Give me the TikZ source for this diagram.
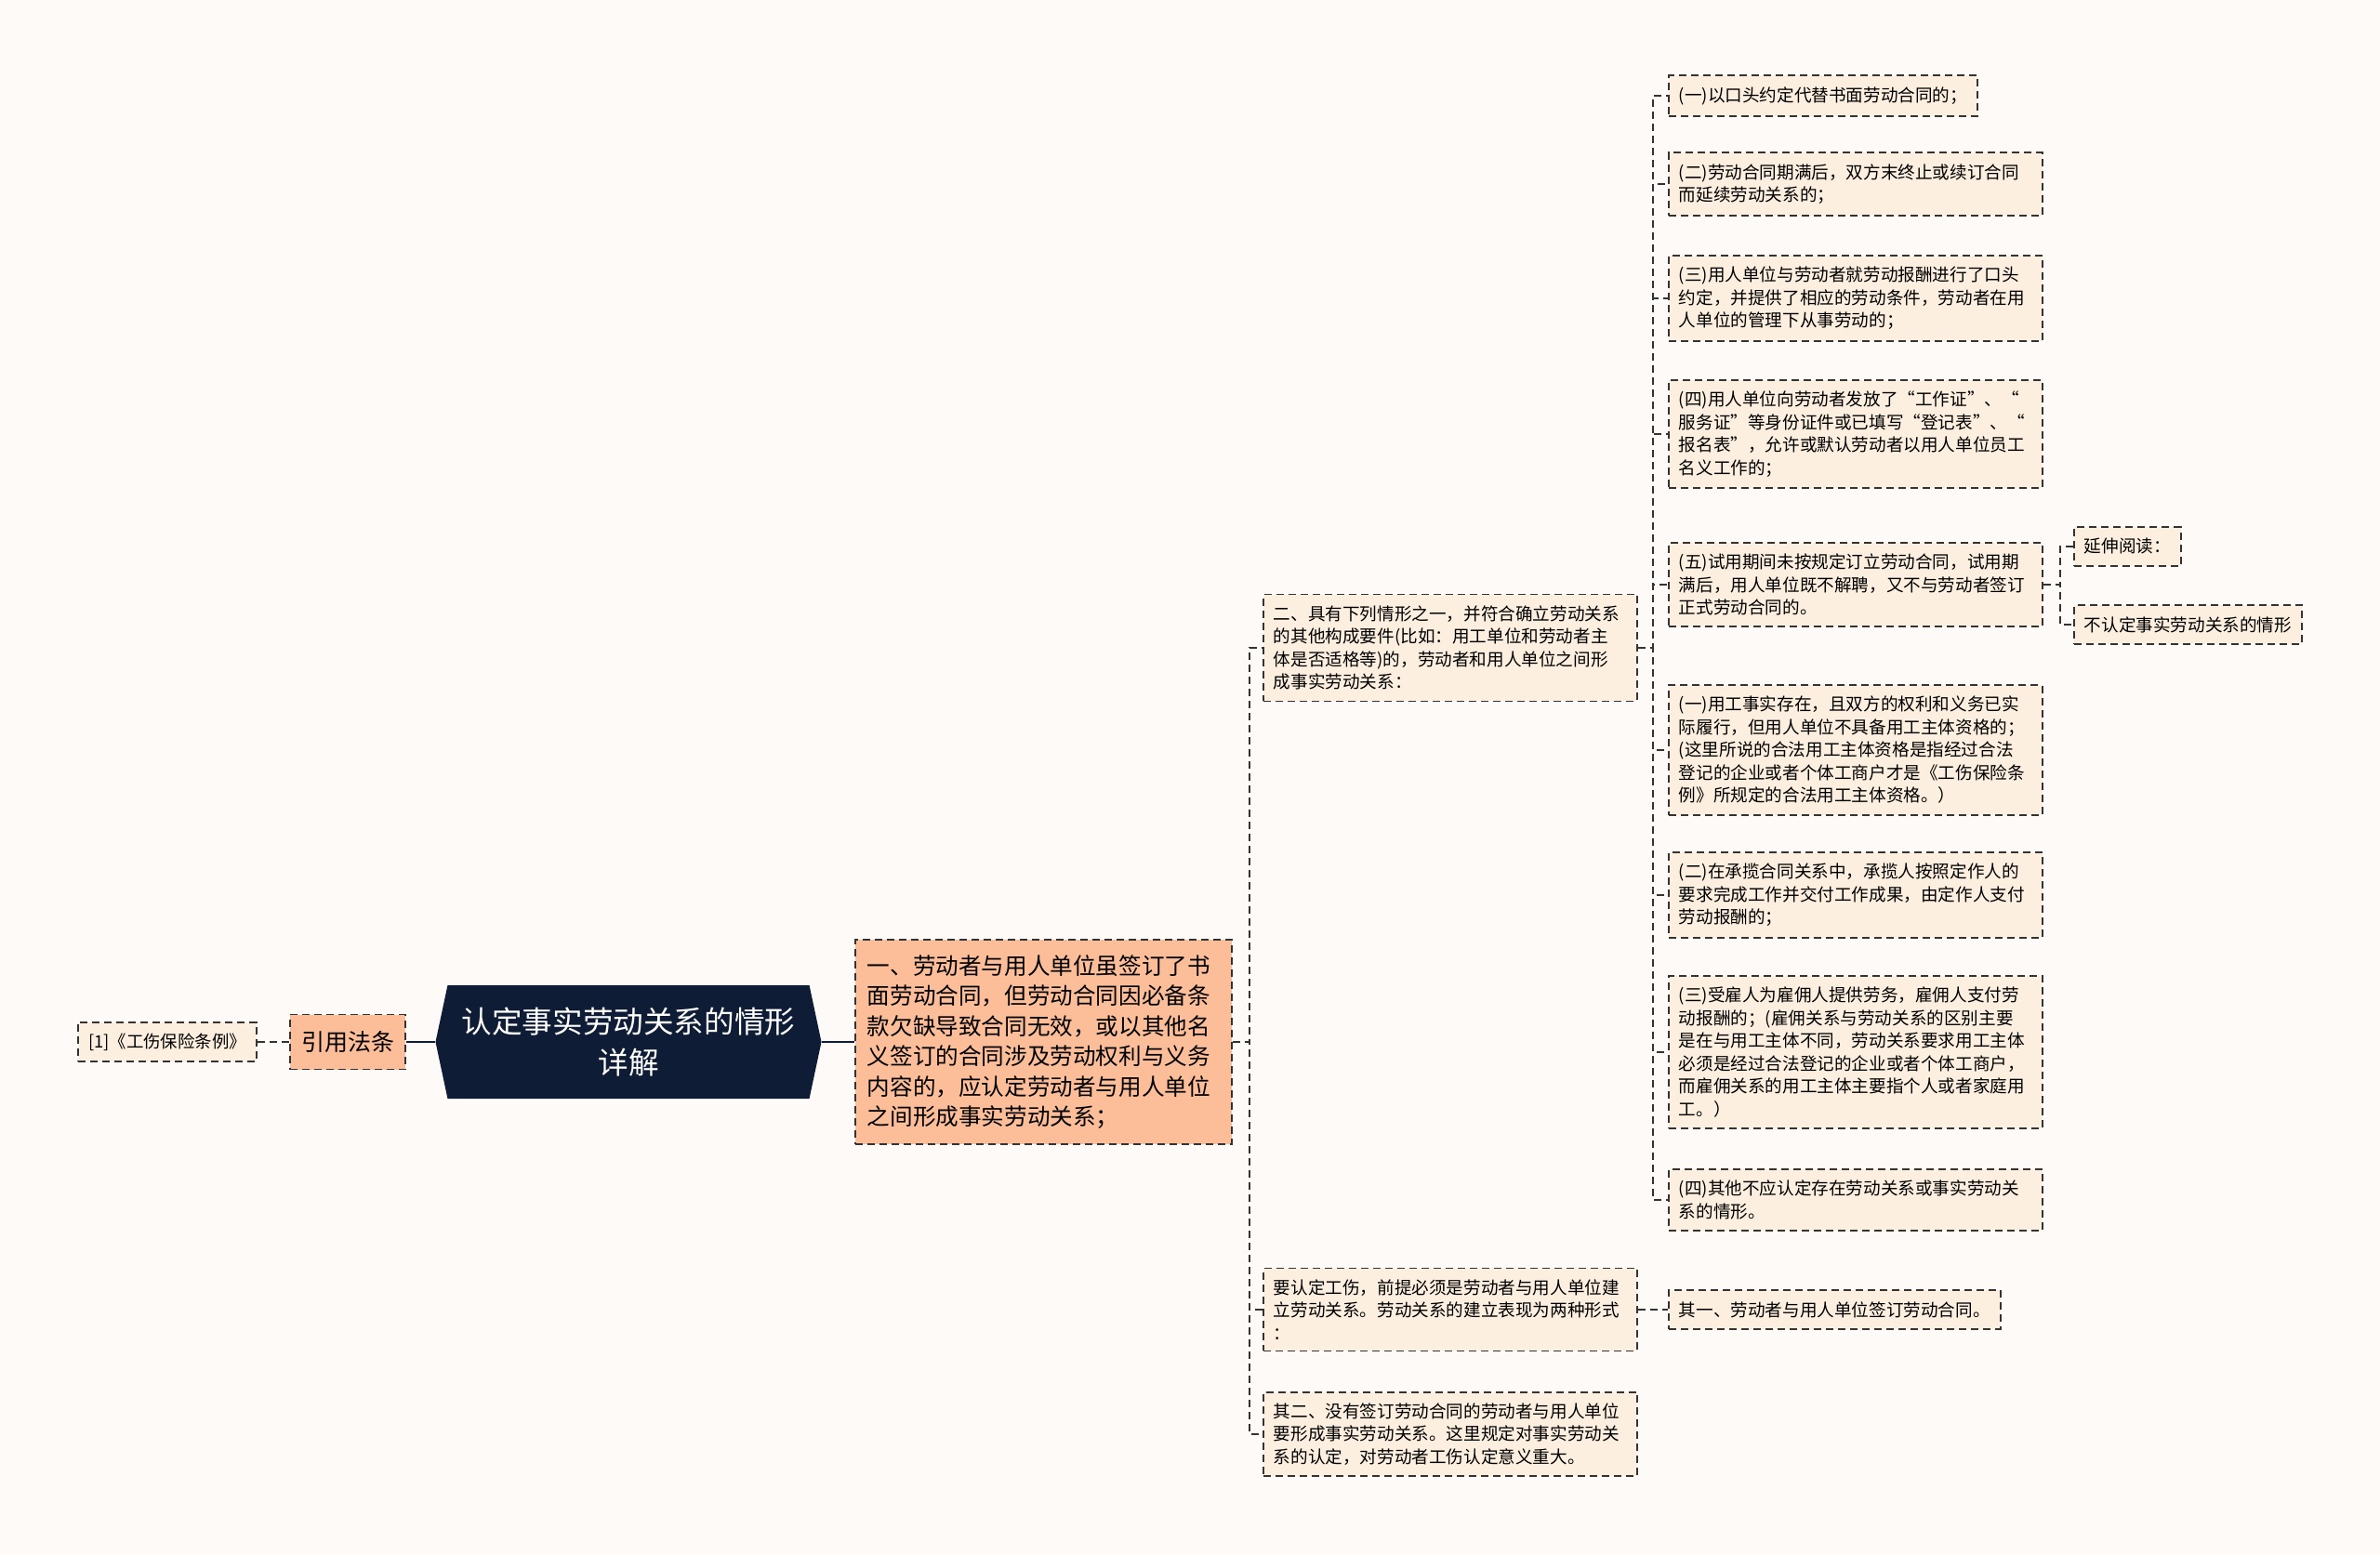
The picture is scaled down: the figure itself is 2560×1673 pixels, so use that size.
\documentclass[tikz,border=0pt]{standalone}
\usepackage{fontspec}
\setmainfont{Noto Sans CJK SC}
\usetikzlibrary{shapes.symbols}
\definecolor{bgpaper}{HTML}{FDFAF8}
\definecolor{rootnavy}{HTML}{0E1C36}
\definecolor{salmon}{HTML}{FCBD99}
\definecolor{cream}{HTML}{FDEFDF}
\definecolor{edgegray}{HTML}{333333}
\begin{document}
\begin{tikzpicture}[x=0.5pt,y=-0.5pt,
  box/.style={draw=edgegray,line width=0.9pt,dash pattern=on 4pt off 2.5pt,inner xsep=5.5pt,inner ysep=6pt,align=left,font=\fontsize{9.3}{12.25}\selectfont},
  leaf/.style={box,fill=cream,anchor=west},
  wide/.style={leaf,text width=190pt},
  main/.style={box,fill=salmon},
  rootbox/.style={shape=signal,signal to=east and west,signal pointer angle=156,fill=rootnavy,text=white,align=center,minimum width=207.5pt,minimum height=61pt,font=\fontsize{16.3}{22}\selectfont},
  link/.style={draw=edgegray,line width=0.9pt,dash pattern=on 4pt off 2.5pt},
  rootlink/.style={draw=rootnavy,line width=1.4pt}]
\fill[bgpaper] (0,0) rectangle (2560,1673);
\useasboundingbox (0,0) rectangle (2560,1673);
\node[rootbox] (root) at (676,1121) {认定事实劳动关系的情形\\详解};
\node[main,minimum width=62pt,minimum height=29.5pt,align=center,font=\fontsize{12.5}{15}\selectfont] (law) at (374,1121) {引用法条};
\node[box,fill=cream,font=\fontsize{9.2}{12}\selectfont,minimum height=20.5pt] (cite) at (180,1121) {[1]《工伤保险条例》};
\node[main,anchor=west,text width=189.5pt,inner xsep=6.5pt,inner ysep=8.3pt,font=\fontsize{12.3}{16.2}\selectfont] (one) at (919,1121) {一、劳动者与用人单位虽签订了书\\面劳动合同，但劳动合同因必备条\\款欠缺导致合同无效，或以其他名\\义签订的合同涉及劳动权利与义务\\内容的，应认定劳动者与用人单位\\之间形成事实劳动关系；};
\node[wide] (two) at (1358,697) {二、具有下列情形之一，并符合确立劳动关系\\的其他构成要件(比如：用工单位和劳动者主\\体是否适格等)的，劳动者和用人单位之间形\\成事实劳动关系：};
\node[wide] (inj) at (1358,1409) {要认定工伤，前提必须是劳动者与用人单位建\\立劳动关系。劳动关系的建立表现为两种形式\\：};
\node[wide] (other) at (1358,1543) {其二、没有签订劳动合同的劳动者与用人单位\\要形成事实劳动关系。这里规定对事实劳动关\\系的认定，对劳动者工伤认定意义重大。};
\node[leaf] (a1) at (1794,103) {(一)以口头约定代替书面劳动合同的；};
\node[wide] (a2) at (1794,198) {(二)劳动合同期满后，双方末终止或续订合同\\而延续劳动关系的；};
\node[wide] (a3) at (1794,321) {(三)用人单位与劳动者就劳动报酬进行了口头\\约定，并提供了相应的劳动条件，劳动者在用\\人单位的管理下从事劳动的；};
\node[wide] (a4) at (1794,467) {(四)用人单位向劳动者发放了“工作证”、“\\服务证”等身份证件或已填写“登记表”、“\\报名表”，允许或默认劳动者以用人单位员工\\名义工作的；};
\node[wide] (a5) at (1794,629) {(五)试用期间未按规定订立劳动合同，试用期\\满后，用人单位既不解聘，又不与劳动者签订\\正式劳动合同的。};
\node[wide] (b1) at (1794,807) {(一)用工事实存在，且双方的权利和义务已实\\际履行，但用人单位不具备用工主体资格的；\\(这里所说的合法用工主体资格是指经过合法\\登记的企业或者个体工商户才是《工伤保险条\\例》所规定的合法用工主体资格。）};
\node[wide] (b2) at (1794,963) {(二)在承揽合同关系中，承揽人按照定作人的\\要求完成工作并交付工作成果，由定作人支付\\劳动报酬的；};
\node[wide] (b3) at (1794,1132) {(三)受雇人为雇佣人提供劳务，雇佣人支付劳\\动报酬的；(雇佣关系与劳动关系的区别主要\\是在与用工主体不同，劳动关系要求用工主体\\必须是经过合法登记的企业或者个体工商户，\\而雇佣关系的用工主体主要指个人或者家庭用\\工。）};
\node[wide] (b4) at (1794,1291) {(四)其他不应认定存在劳动关系或事实劳动关\\系的情形。};
\node[leaf] (first) at (1794,1409) {其一、劳动者与用人单位签订劳动合同。};
\node[leaf] (ext) at (2230,588) {延伸阅读：};
\node[leaf] (neg) at (2230,672) {不认定事实劳动关系的情形};
\draw[rootlink] (root.west) -- (law.east);
\draw[link] (law.west) -- (cite.east);
\draw[rootlink] (root.east) -- (one.west);
\foreach \n in {two,inj,other} \draw[link] (one.east) -- ++(18,0) |- (\n.west);
\foreach \n in {a1,a2,a3,a4,a5,b1,b2,b3,b4} \draw[link] (two.east) -- ++(16,0) |- (\n.west);
\draw[link] (inj.east) -- (first.west);
\foreach \n in {ext,neg} \draw[link] (a5.east) -- ++(18,0) |- (\n.west);
\end{tikzpicture}
\end{document}
